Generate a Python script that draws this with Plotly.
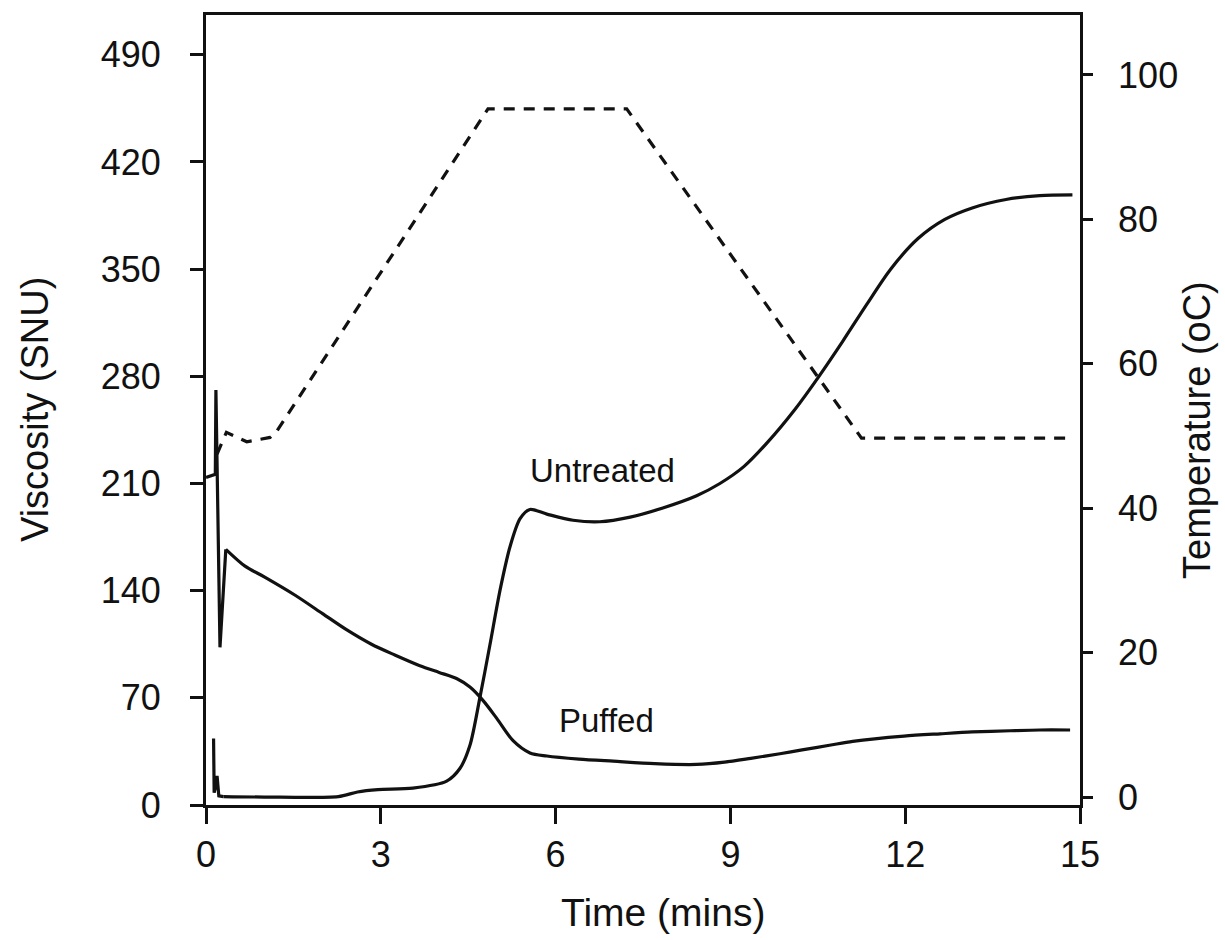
import plotly.graph_objects as go

# ---- data ----
puffed_t = [0.0, 0.16, 0.17, 0.24, 0.34, 0.67, 1.0, 1.53, 2.0, 2.39, 2.84, 3.24, 3.67, 4.0,
            4.3, 4.53, 4.76, 4.99, 5.27, 5.56, 5.85, 6.4, 6.99, 7.7, 8.42, 8.9, 9.35, 9.85,
            10.23, 10.7, 11.1, 11.98, 12.6, 13.15, 13.8, 14.31, 14.83]
puffed_v = [214, 216, 271, 103, 167, 156, 149, 137, 125, 115, 105, 98, 91, 86.6,
            82.6, 77, 68, 56.6, 42, 34, 32, 30, 28.6, 27, 26.5, 28, 30.5, 33.5,
            36, 39, 41.6, 45, 46.5, 47.7, 48.5, 49, 49]

untreated_t = [0.13, 0.14, 0.165, 0.19, 0.22, 0.3, 1.0, 2.27, 2.6, 2.95, 3.55, 4.13, 4.36,
               4.53, 4.70, 4.87, 5.05, 5.22, 5.39, 5.56, 5.85, 6.30, 6.76, 7.28, 7.84, 8.42,
               8.82, 9.23, 9.64, 10.1, 10.52, 10.93, 11.34, 11.75, 12.22, 12.68, 13.15,
               13.73, 14.31, 14.87]
untreated_v = [43.5, 8, 12, 19, 6, 5.5, 5.2, 5.5, 8.5, 10, 11, 15.6, 24,
               39, 70, 104, 141, 169, 187, 193, 190, 186, 185, 188, 194, 202,
               210, 221, 237, 258, 280, 303, 327, 350, 370, 382.5, 390,
               395.5, 398, 398.5]

temp_t = [0.19, 0.35, 0.7, 1.1, 1.2, 4.84, 7.22, 11.25, 14.85]
temp_c = [47.5, 50.5, 49.2, 49.8, 50.5, 95.3, 95.3, 49.7, 49.7]

x_ticks = [0, 3, 6, 9, 12, 15]
visc_ticks = [0, 70, 140, 210, 280, 350, 420, 490]
temp_ticks = [0, 20, 40, 60, 80, 100]

FONT = "Liberation Sans, Arial, Helvetica, sans-serif"
BLACK = "#111111"
LW = 3.2

# early (spiky) part drawn straight, the rest smoothed
U_SPLIT = 5
P_SPLIT = 4

fig = go.Figure()
fig.add_trace(go.Scatter(x=untreated_t[:U_SPLIT + 1], y=untreated_v[:U_SPLIT + 1],
                         mode="lines", line=dict(color=BLACK, width=LW)))
fig.add_trace(go.Scatter(x=untreated_t[U_SPLIT:], y=untreated_v[U_SPLIT:], mode="lines",
                         line=dict(color=BLACK, width=LW, shape="spline", smoothing=0.8)))
fig.add_trace(go.Scatter(x=puffed_t[:P_SPLIT + 1], y=puffed_v[:P_SPLIT + 1],
                         mode="lines", line=dict(color=BLACK, width=LW)))
fig.add_trace(go.Scatter(x=puffed_t[P_SPLIT:], y=puffed_v[P_SPLIT:], mode="lines",
                         line=dict(color=BLACK, width=LW, shape="spline", smoothing=0.8)))
fig.add_trace(go.Scatter(x=temp_t, y=temp_c, mode="lines", yaxis="y2",
                         line=dict(color=BLACK, width=LW, dash="11px,9px")))

fig.update_layout(
    width=1225, height=940,
    margin=dict(l=206, r=145, t=13, b=135),
    paper_bgcolor="white", plot_bgcolor="white",
    showlegend=False,
    font=dict(family=FONT, color=BLACK, size=36),
    xaxis=dict(range=[0, 15], tickvals=x_ticks, ticks="outside", ticklen=16,
               tickwidth=2.5, tickcolor=BLACK, showline=True, linewidth=2.8,
               linecolor=BLACK, mirror=True, showgrid=False, zeroline=False,
               tickfont=dict(size=36, family=FONT, color=BLACK)),
    yaxis=dict(range=[0, 516], tickvals=visc_ticks, ticks="outside", ticklen=13,
               tickwidth=2.5, tickcolor=BLACK, showline=True, linewidth=2.8,
               linecolor=BLACK, showgrid=False, zeroline=False,
               ticklabelstandoff=22,
               tickfont=dict(size=36, family=FONT, color=BLACK)),
    yaxis2=dict(range=[-1.1, 108.3], tickvals=temp_ticks, overlaying="y",
                side="right", ticks="outside", ticklen=10, tickwidth=2.5,
                tickcolor=BLACK, showline=True, linewidth=2.8, linecolor=BLACK,
                showgrid=False, zeroline=False, ticklabelstandoff=18,
                tickfont=dict(size=36, family=FONT, color=BLACK)),
    annotations=[
        dict(text="Untreated", x=6.8, y=218.6, xref="x", yref="y", showarrow=False,
             font=dict(size=33, family=FONT, color=BLACK)),
        dict(text="Puffed", x=6.88, y=55.3, xref="x", yref="y", showarrow=False,
             font=dict(size=33, family=FONT, color=BLACK)),
        dict(text="Time (mins)", x=0.5, y=0, xref="paper", yref="paper",
             xshift=20, yshift=-107, showarrow=False, yanchor="middle",
             font=dict(size=39, family=FONT, color=BLACK)),
        dict(text="Viscosity (SNU)", x=0, y=0.5, xref="paper", yref="paper",
             xshift=-171, showarrow=False, textangle=-90, xanchor="center",
             font=dict(size=38, family=FONT, color=BLACK)),
        dict(text="Temperature (oC)", x=1, y=0.5, xref="paper", yref="paper",
             xshift=117, yshift=-20, showarrow=False, textangle=-90, xanchor="center",
             font=dict(size=38, family=FONT, color=BLACK)),
    ],
)

fig.write_html("out.html")
